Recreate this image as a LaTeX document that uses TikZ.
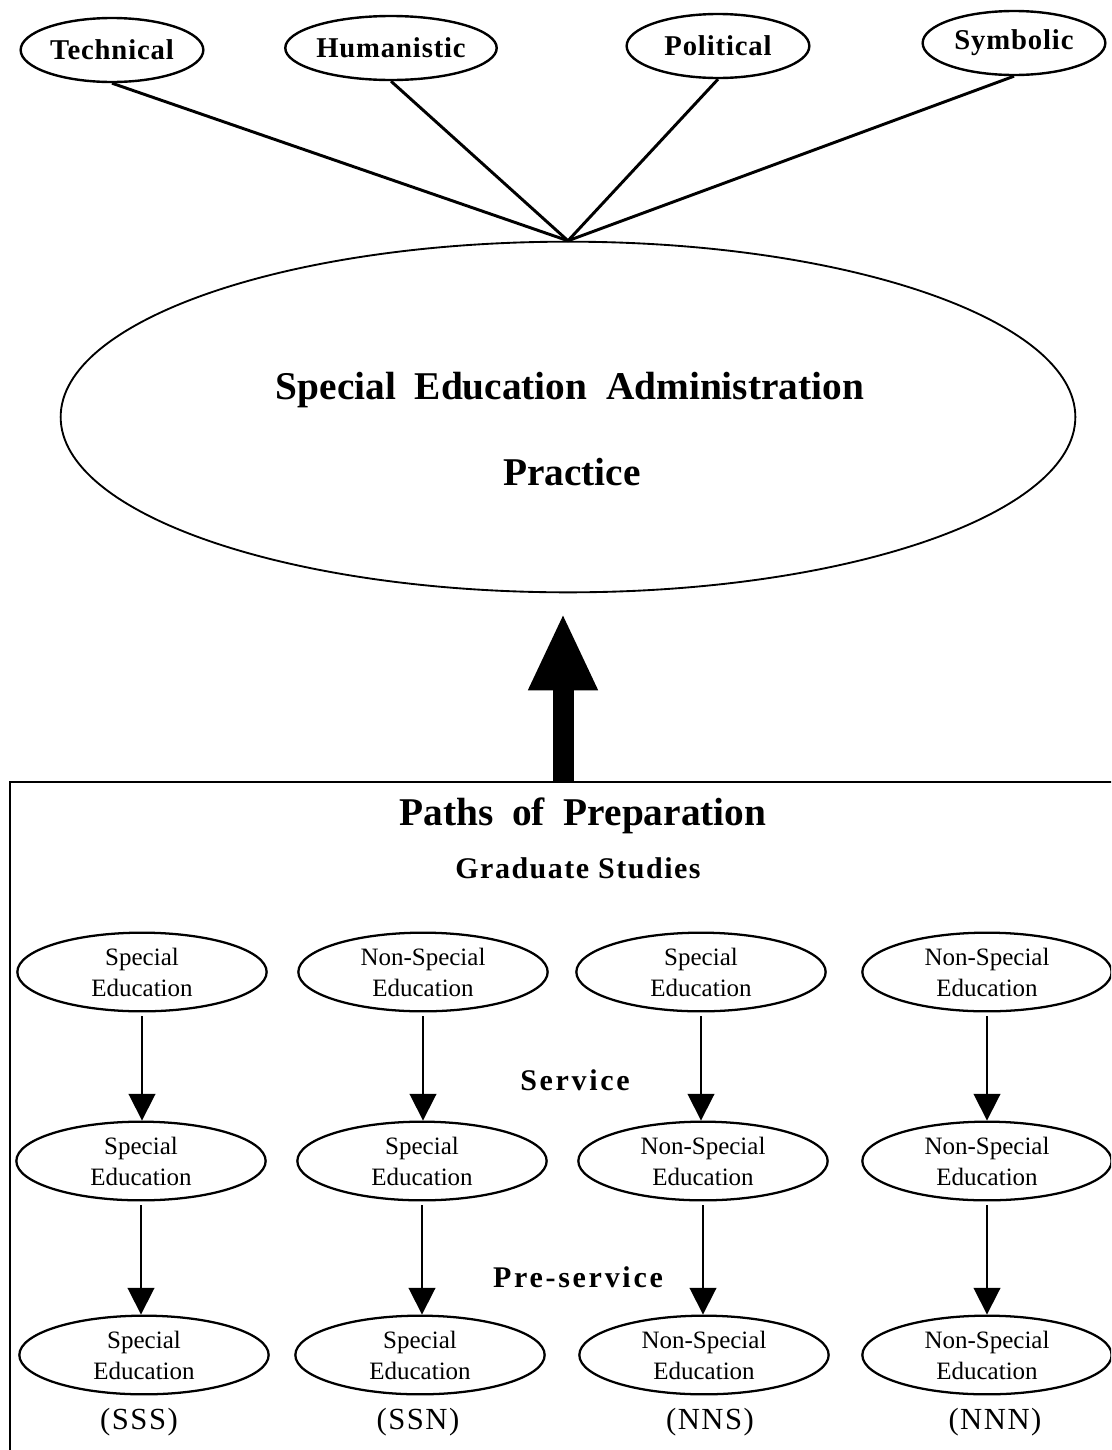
\documentclass[tikz,border=0pt]{standalone}
\usepackage{fontspec}
\setmainfont{Liberation Serif}
\newfontfamily\stylefont{Liberation Serif}[LetterSpace=3,WordSpace=1.6]
\newfontfamily\titlefont{Liberation Serif}[WordSpace=1.9]
\newfontfamily\stagefont{Liberation Serif}[LetterSpace=9,WordSpace=1.6]
\newfontfamily\gradfont{Liberation Serif}[LetterSpace=5,WordSpace=1.6]
\newfontfamily\codefont{Liberation Serif}[LetterSpace=5]
\usetikzlibrary{arrows.meta,shapes.geometric}

\tikzset{every picture/.style={line width=0.75pt}}
\tikzset{
  styleoval/.style={draw, ellipse, line width=1.8pt, inner sep=0pt, minimum width=137pt, minimum height=48pt, font=\stylefont\bfseries\fontsize{21.5}{26}\selectfont},
  bigoval/.style={draw, ellipse, line width=1.4pt, inner sep=0pt, minimum width=761pt, minimum height=263pt},
  pathoval/.style={draw, ellipse, line width=1.7pt, inner sep=0pt, minimum width=187pt, minimum height=59pt, align=center, font=\fontsize{18.75}{23.25}\selectfont},
  patharrow/.style={line width=1.4pt, -{Triangle[width=20pt,length=20pt]}, shorten <=3pt},
  stagelabel/.style={inner sep=0.75pt, font=\stagefont\bfseries\fontsize{22.5}{27}\selectfont},
  codelabel/.style={inner sep=0.75pt, font=\codefont\fontsize{23}{27}\selectfont},
  headlabel/.style={inner sep=0.75pt, font=\titlefont\bfseries\fontsize{29.5}{35}\selectfont},
}

\begin{document}
\begin{tikzpicture}[x=0.75pt,y=0.75pt,yscale=-1,xscale=1]
\clip (0,0) rectangle (1111,1450);

% Frames of administration
\node (technical) at (112,50) [styleoval] {Technical};
\node (humanistic) at (391,48) [styleoval] {Humanistic};
\node (political) at (718,46) [styleoval] {Political};
\node (symbolic) at (1014,43) [styleoval] {Symbolic};

% Practice ellipse
\node (practice) at (568,417) [bigoval] {};
\node (practicetitle) at (570,390) [headlabel] {Special Education Administration};
\node (practiceword) at (572,472) [headlabel] {Practice};

% Straight Lines to the practice
\draw [line width=2.2pt] (technical.south) -- (practice.north);
\draw [line width=2.2pt] (humanistic.south) -- (practice.north);
\draw [line width=2.2pt] (political.south) -- (practice.north);
\draw [line width=2.2pt] (symbolic.south) -- (practice.north);

% Frame of the paths
\draw [line width=1.8pt] (10,1470) -- (10,782) -- (1130,782);

% Big arrow
\coordinate (boxtop) at (563,782);
\coordinate (arrowtip) at (563,613);
\draw [line width=15.75pt, -{Triangle[width=48pt,length=58pt]}] (boxtop) -- (arrowtip);

% Text Node
\node (pathstitle) at (583,816) [headlabel] {Paths of Preparation};
\node (graduate) at (578,868) [inner sep=0.75pt, font=\gradfont\bfseries\fontsize{22.5}{27}\selectfont] {Graduate Studies};
\node (service) at (575,1080) [stagelabel] {Service};
\node (preservice) at (578,1277) [stagelabel] {Pre-service};

% Graduate studies row
\node (gradA) at (142,972) [pathoval] {Special\\Education};
\node (gradB) at (423,972) [pathoval] {Non-Special\\Education};
\node (gradC) at (701,972) [pathoval] {Special\\Education};
\node (gradD) at (987,972) [pathoval] {Non-Special\\Education};

% Service row
\node (servA) at (141,1161) [pathoval] {Special\\Education};
\node (servB) at (422,1161) [pathoval] {Special\\Education};
\node (servC) at (703,1161) [pathoval] {Non-Special\\Education};
\node (servD) at (987,1161) [pathoval] {Non-Special\\Education};

% Pre-service row
\node (preA) at (144,1355) [pathoval] {Special\\Education};
\node (preB) at (420,1355) [pathoval] {Special\\Education};
\node (preC) at (704,1355) [pathoval] {Non-Special\\Education};
\node (preD) at (987,1355) [pathoval] {Non-Special\\Education};

% Path codes
\node (codeA) at (139,1422) [codelabel] {(SSS)};
\node (codeB) at (418,1422) [codelabel] {(SSN)};
\node (codeC) at (710,1422) [codelabel] {(NNS)};
\node (codeD) at (995,1422) [codelabel] {(NNN)};

% Arrows
\draw [patharrow] (gradA.south) -- (gradA.south |- servA.north);
\draw [patharrow] (gradB.south) -- (gradB.south |- servB.north);
\draw [patharrow] (gradC.south) -- (gradC.south |- servC.north);
\draw [patharrow] (gradD.south) -- (gradD.south |- servD.north);
\draw [patharrow] (servA.south) -- (servA.south |- preA.north);
\draw [patharrow] (servB.south) -- (servB.south |- preB.north);
\draw [patharrow] (servC.south) -- (servC.south |- preC.north);
\draw [patharrow] (servD.south) -- (servD.south |- preD.north);

\end{tikzpicture}
\end{document}
